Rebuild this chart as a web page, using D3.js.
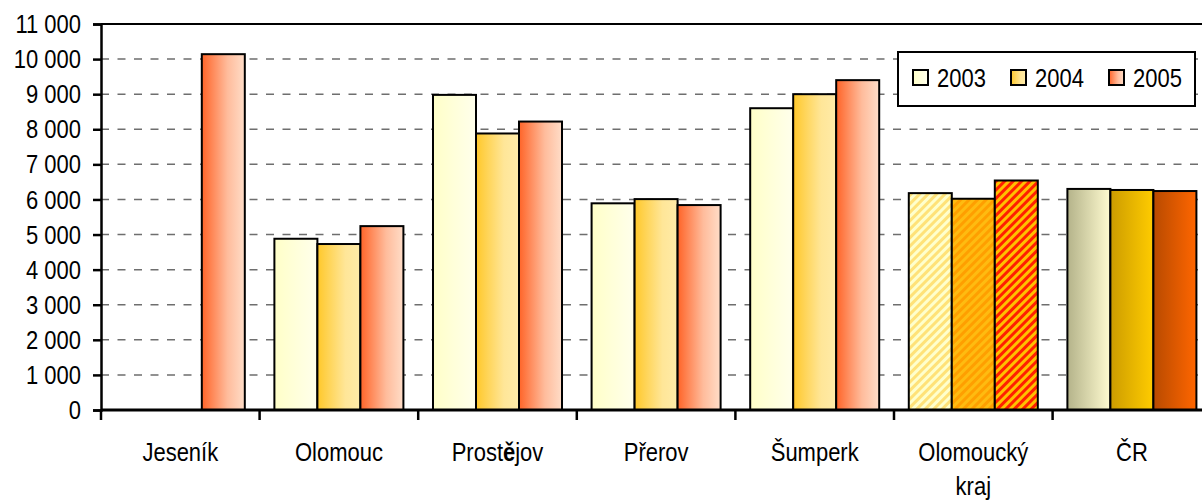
<!DOCTYPE html>
<html>
<head>
<meta charset="utf-8">
<style>
  body { margin: 0; background: #fff; }
  svg text { font-family: "Liberation Sans", Arial, sans-serif; fill: #000; }
</style>
</head>
<body>
<svg width="1202" height="500"></svg>
<script src="https://cdnjs.cloudflare.com/ajax/libs/d3/7.8.5/d3.min.js"></script>
<script>
  // data
  var categories = ["Jeseník", "Olomouc", "Prostějov", "Přerov", "Šumperk", "Olomoucký kraj", "ČR"];
  var years = ["2003", "2004", "2005"];
  var values2003 = [null, 4880, 8980, 5890, 8600, 6180, 6300];
  var values2004 = [null, 4730, 7880, 6010, 9000, 6020, 6270];
  var values2005 = [10140, 5240, 8220, 5840, 9400, 6540, 6240];
  var yTicks = [0, 1000, 2000, 3000, 4000, 5000, 6000, 7000, 8000, 9000, 10000, 11000];

  var series = [values2003, values2004, values2005];

  var svg = d3.select("svg"),
      plotLeft = 101, plotTop = 24, plotBottom = 410,
      catStep = 158.6,
      plotRight = plotLeft + catStep * categories.length,
      stretch = 1.15;   // the reference text is slightly tall and narrow

  var x0 = d3.scaleBand().domain(categories).range([plotLeft, plotRight]);
  var x1 = d3.scaleBand().domain(years).range([0, x0.bandwidth()]).paddingOuter(0.344);
  var y = d3.scaleLinear().domain([0, 11000]).range([plotBottom, plotTop]);

  var fmt = d3.formatLocale({decimal: ",", thousands: " ", grouping: [3], currency: ["", ""]}).format(",d");

  // gradients and patterns
  var defs = svg.append("defs");
  function grad(id, stops) {
    var g = defs.append("linearGradient").attr("id", id)
      .attr("x1", "0").attr("x2", "1").attr("y1", "0").attr("y2", "0");
    stops.forEach(function(s) {
      g.append("stop").attr("offset", s[0]).attr("stop-color", s[1]);
    });
  }
  grad("g2003", [[0, "#ffffc8"], [1, "#ffffec"]]);
  grad("g2004", [[0, "#ffc82a"], [0.65, "#ffe698"], [1, "#ffeba8"]]);
  grad("g2005", [[0, "#ff6428"], [0.6, "#ffbc9c"], [1, "#ffddc8"]]);
  grad("c2003", [[0, "#b4b38a"], [1, "#fffbd0"]]);
  grad("c2004", [[0, "#cc9c00"], [1, "#ffcc00"]]);
  grad("c2005", [[0, "#b84a00"], [1, "#ff6600"]]);

  function hatch(id, bg, fg) {
    var p = defs.append("pattern").attr("id", id)
      .attr("patternUnits", "userSpaceOnUse")
      .attr("width", 6).attr("height", 6)
      .attr("patternTransform", "rotate(45)");
    p.append("rect").attr("width", 6).attr("height", 6).attr("fill", bg);
    p.append("rect").attr("width", 3).attr("height", 6).attr("fill", fg);
  }
  hatch("p2003", "#ffffcc", "#ffe278");
  hatch("p2004", "#ff9f00", "#ffbb10");
  hatch("p2005", "#ff2000", "#ffc000");

  function fillFor(yi, ci) {
    var cat = categories[ci];
    if (cat === "Olomoucký kraj") return "url(#p" + years[yi] + ")";
    if (cat === "ČR") return "url(#c" + years[yi] + ")";
    return "url(#g" + years[yi] + ")";
  }

  // gridlines
  svg.append("g")
    .selectAll("line")
    .data(yTicks.filter(function(d) { return d > 0 && d < 11000; }))
    .enter().append("line")
    .attr("x1", plotLeft).attr("x2", plotRight)
    .attr("y1", function(d) { return y(d); })
    .attr("y2", function(d) { return y(d); })
    .attr("stroke", "#6e6e6e")
    .attr("stroke-width", 1.5)
    .attr("stroke-dasharray", "8,8.5");

  // top border of plot area
  svg.append("line")
    .attr("x1", plotLeft).attr("x2", plotRight)
    .attr("y1", y(11000)).attr("y2", y(11000))
    .attr("stroke", "#000").attr("stroke-width", 2);

  // bars
  var bars = [];
  series.forEach(function(vals, yi) {
    vals.forEach(function(v, ci) {
      if (v != null) bars.push({yi: yi, ci: ci, v: v});
    });
  });

  svg.append("g")
    .selectAll("rect")
    .data(bars)
    .enter().append("rect")
    .attr("x", function(d) { return x0(categories[d.ci]) + x1(years[d.yi]); })
    .attr("y", function(d) { return y(d.v); })
    .attr("width", x1.bandwidth())
    .attr("height", function(d) { return y(0) - y(d.v); })
    .attr("fill", function(d) { return fillFor(d.yi, d.ci); })
    .attr("stroke", "#000")
    .attr("stroke-width", 2);

  // y axis
  var yAxis = svg.append("g")
    .attr("transform", "translate(" + plotLeft + ",0)")
    .call(d3.axisLeft(y).tickValues(yTicks).tickSize(8).tickFormat(fmt));
  yAxis.select(".domain").attr("stroke-width", 2.5);
  yAxis.selectAll(".tick line").attr("stroke-width", 2.5);
  yAxis.selectAll(".tick text")
    .attr("x", 0).attr("y", 0).attr("dy", "0.34em")
    .attr("transform", "translate(-20,0) scale(1," + stretch + ")")
    .attr("font-size", 22)
    .attr("font-family", null);
  yAxis.attr("font-family", null).attr("font-size", null);

  // x axis: line + boundary ticks
  svg.append("line")
    .attr("x1", plotLeft).attr("x2", plotRight)
    .attr("y1", plotBottom).attr("y2", plotBottom)
    .attr("stroke", "#000").attr("stroke-width", 3);

  svg.append("g")
    .selectAll("line")
    .data(categories)
    .enter().append("line")
    .attr("x1", function(d) { return x0(d); })
    .attr("x2", function(d) { return x0(d); })
    .attr("y1", plotBottom).attr("y2", plotBottom + 10)
    .attr("stroke", "#000").attr("stroke-width", 2.5);

  // category labels
  var labels = svg.append("g")
    .selectAll("text")
    .data(categories)
    .enter().append("text")
    .attr("text-anchor", "middle")
    .attr("font-size", 22)
    .attr("transform", function(d) {
      return "translate(" + (x0(d) + x0.bandwidth() / 2) + "," + (plotBottom + 51) + ") scale(1," + stretch + ")";
    });

  labels.each(function(d) {
    var t = d3.select(this);
    if (d === "Olomoucký kraj") {
      t.append("tspan").attr("x", 0).attr("y", 0).text("Olomoucký");
      t.append("tspan").attr("x", 0).attr("dy", 29.5).text("kraj");
    } else if (d === "Prostějov") {
      t.append("tspan").text("Prost");
      t.append("tspan").attr("font-weight", "bold").text("ě");
      t.append("tspan").text("jov");
    } else {
      t.text(d);
    }
  });

  // legend
  var legend = svg.append("g").attr("transform", "translate(898,52)");
  legend.append("rect")
    .attr("width", 297).attr("height", 54)
    .attr("fill", "#fff").attr("stroke", "#000").attr("stroke-width", 2);

  var item = legend.selectAll(".item")
    .data(years)
    .enter().append("g")
    .attr("transform", function(d, i) { return "translate(" + (15 + i * 98) + ",0)"; });

  item.append("rect")
    .attr("y", 18).attr("width", 15).attr("height", 15)
    .attr("fill", function(d) { return "url(#g" + d + ")"; })
    .attr("stroke", "#000").attr("stroke-width", 2);

  item.append("text")
    .attr("font-size", 22)
    .attr("transform", "translate(24,35) scale(1," + stretch + ")")
    .text(function(d) { return d; });
</script>
</body>
</html>
